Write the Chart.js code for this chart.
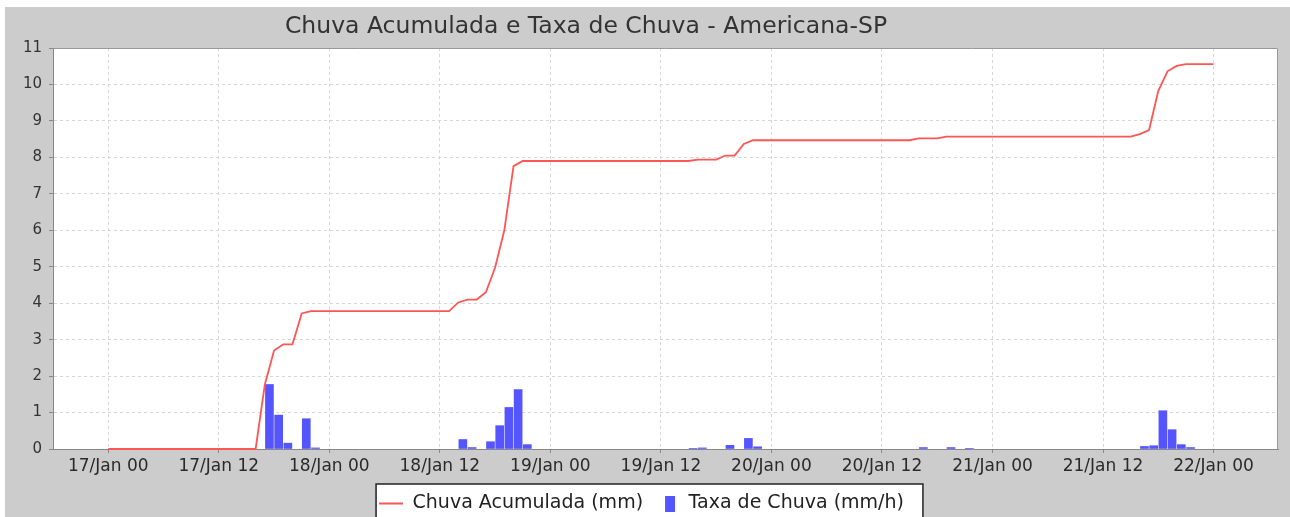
<!DOCTYPE html>
<html>
<head>
<meta charset="utf-8">
<title>Chuva Acumulada e Taxa de Chuva - Americana-SP</title>
<script src="https://cdn.jsdelivr.net/npm/chart.js@4.4.1/dist/chart.umd.min.js"></script>
<style>
  html, body { margin: 0; padding: 0; background: #ffffff; overflow: hidden; }
  #wrap { position: absolute; left: 5px; top: 7px; width: 1285px; height: 516px; background: #cccccc; }
</style>
</head>
<body>
<div id="wrap"><canvas id="chuva-chart"></canvas></div>
<script>
const chartTitle = "Chuva Acumulada e Taxa de Chuva - Americana-SP";

// hours counted from 17/Jan 00
const tickHours = [0, 12, 24, 36, 48, 60, 72, 84, 96, 108, 120];
const tickLabels = ["17/Jan 00", "17/Jan 12", "18/Jan 00", "18/Jan 12", "19/Jan 00", "19/Jan 12",
  "20/Jan 00", "20/Jan 12", "21/Jan 00", "21/Jan 12", "22/Jan 00"];

// Chuva Acumulada (mm)
const accHours = [0, 16, 17, 18, 19, 20, 21, 22, 37, 38, 39, 40, 41, 42, 43, 44, 45,
  63, 64, 66, 67, 68, 69, 70, 87, 88, 90, 91, 111, 112, 113, 114, 115, 116, 117, 120];
const accValues = [0, 0, 1.77, 2.7, 2.87, 2.87, 3.72, 3.78, 3.78, 4.02, 4.1, 4.1, 4.3, 4.98, 6.0, 7.76, 7.9,
  7.9, 7.94, 7.94, 8.05, 8.05, 8.37, 8.47, 8.47, 8.52, 8.52, 8.57, 8.57, 8.64, 8.75, 9.82, 10.36, 10.51, 10.56, 10.56];

// Taxa de Chuva (mm/h), bar centres
const rateHours = [17.5, 18.5, 19.5, 21.5, 22.5, 38.5, 39.5, 41.5, 42.5, 43.5, 44.5, 45.5,
  63.5, 64.5, 67.5, 69.5, 70.5, 88.5, 91.5, 93.5, 112.5, 113.5, 114.5, 115.5, 116.5, 117.5];
const rateValues = [1.77, 0.93, 0.16, 0.83, 0.03, 0.26, 0.04, 0.2, 0.64, 1.14, 1.63, 0.12,
  0.01, 0.03, 0.1, 0.29, 0.06, 0.04, 0.04, 0.01, 0.07, 0.09, 1.05, 0.53, 0.12, 0.04];

const lineColor = "#ff5555";
const barColor = "#5555ff";

Chart.defaults.font.family = "'DejaVu Sans', sans-serif";

// small pictures used as legend symbols
function legendSymbol(kind) {
  const c = document.createElement("canvas");
  c.width = 24;
  c.height = 16;
  const g = c.getContext("2d");
  if (kind === "line") {
    g.fillStyle = lineColor;
    g.fillRect(0, 7, 24, 2);
  } else {
    g.fillStyle = barColor;
    g.fillRect(10, 0, 10, 16);
  }
  return c;
}
const symbols = [legendSymbol("line"), legendSymbol("bar")];

const framePlugin = {
  id: "frame",
  beforeDraw(chart) {
    const ctx = chart.ctx;
    const a = chart.chartArea;
    ctx.save();
    ctx.fillStyle = "#ffffff";
    ctx.fillRect(a.left, a.top, a.right - a.left, a.bottom - a.top);

    // legend box
    const boxes = chart.legend.legendHitBoxes;
    if (boxes && boxes.length) {
      const first = boxes[0];
      const last = boxes[boxes.length - 1];
      const x0 = first.left - 3;
      const x1 = last.left + last.width + 19;
      const y0 = first.top - 10;
      ctx.fillRect(x0, y0, x1 - x0, chart.height + 20 - y0);
      ctx.strokeStyle = "#222222";
      ctx.lineWidth = 1.5;
      ctx.strokeRect(x0, y0, x1 - x0, chart.height + 20 - y0);
    }
    ctx.restore();
  },
  afterDraw(chart) {
    const ctx = chart.ctx;
    const a = chart.chartArea;
    ctx.save();
    ctx.strokeStyle = "#999999";
    ctx.lineWidth = 1;
    ctx.beginPath();
    ctx.moveTo(a.left, a.top + 0.5);
    ctx.lineTo(a.right - 0.5, a.top + 0.5);
    ctx.lineTo(a.right - 0.5, a.bottom);
    ctx.stroke();

    ctx.font = "23.5px 'DejaVu Sans'";
    ctx.fillStyle = "#333333";
    ctx.textAlign = "center";
    ctx.textBaseline = "alphabetic";
    ctx.fillText(chartTitle, 581, 26);
    ctx.restore();
  }
};

const ctx = document.getElementById("chuva-chart").getContext("2d");

const chart = new Chart(ctx, {
  data: {
    datasets: [
      {
        type: "line",
        label: "Chuva Acumulada (mm)",
        data: accHours.map((h, i) => ({ x: h, y: accValues[i] })),
        borderColor: lineColor,
        borderWidth: 1.8,
        pointRadius: 0,
        tension: 0,
        clip: 4,
        order: 0
      },
      {
        type: "bar",
        label: "Taxa de Chuva (mm/h)",
        data: rateHours.map((h, i) => ({ x: h, y: rateValues[i] })),
        backgroundColor: barColor,
        borderWidth: 0,
        barThickness: 8,
        order: 1
      }
    ]
  },
  options: {
    responsive: true,
    maintainAspectRatio: false,
    devicePixelRatio: 1,
    animation: false,
    layout: { padding: { top: 41, left: 0, right: 12, bottom: 0 } },
    scales: {
      x: {
        type: "linear",
        min: -6,
        max: 127,
        offset: false,
        afterBuildTicks: (axis) => {
          axis.ticks = tickHours.map((v) => ({ value: v }));
        },
        afterFit: (axis) => {
          axis.height = 33;
        },
        ticks: {
          autoSkip: false,
          maxRotation: 0,
          padding: 3,
          color: "#2a2a2a",
          font: { size: 17 },
          callback: (value) => tickLabels[tickHours.indexOf(value)]
        },
        grid: {
          offset: false,
          color: "#d6d6d6",
          tickColor: "#888888",
          tickLength: 4
        },
        border: { color: "#888888", dash: [3, 3] }
      },
      y: {
        min: 0,
        max: 11,
        afterFit: (axis) => {
          axis.width = 48;
        },
        ticks: {
          stepSize: 1,
          padding: 7,
          color: "#333333",
          font: { size: 15 }
        },
        grid: {
          color: "#d6d6d6",
          tickColor: "#888888",
          tickLength: 4
        },
        border: { color: "#888888", dash: [3, 3] }
      }
    },
    plugins: {
      title: { display: false },
      tooltip: { enabled: false },
      legend: {
        display: true,
        position: "bottom",
        labels: {
          usePointStyle: true,
          pointStyleWidth: 24,
          padding: 12,
          color: "#222222",
          font: { size: 19 },
          generateLabels: (c) => {
            const items = Chart.defaults.plugins.legend.labels.generateLabels(c);
            items.forEach((item, i) => { item.pointStyle = symbols[i]; });
            return items;
          }
        }
      }
    }
  },
  plugins: [framePlugin]
});
</script>
</body>
</html>
